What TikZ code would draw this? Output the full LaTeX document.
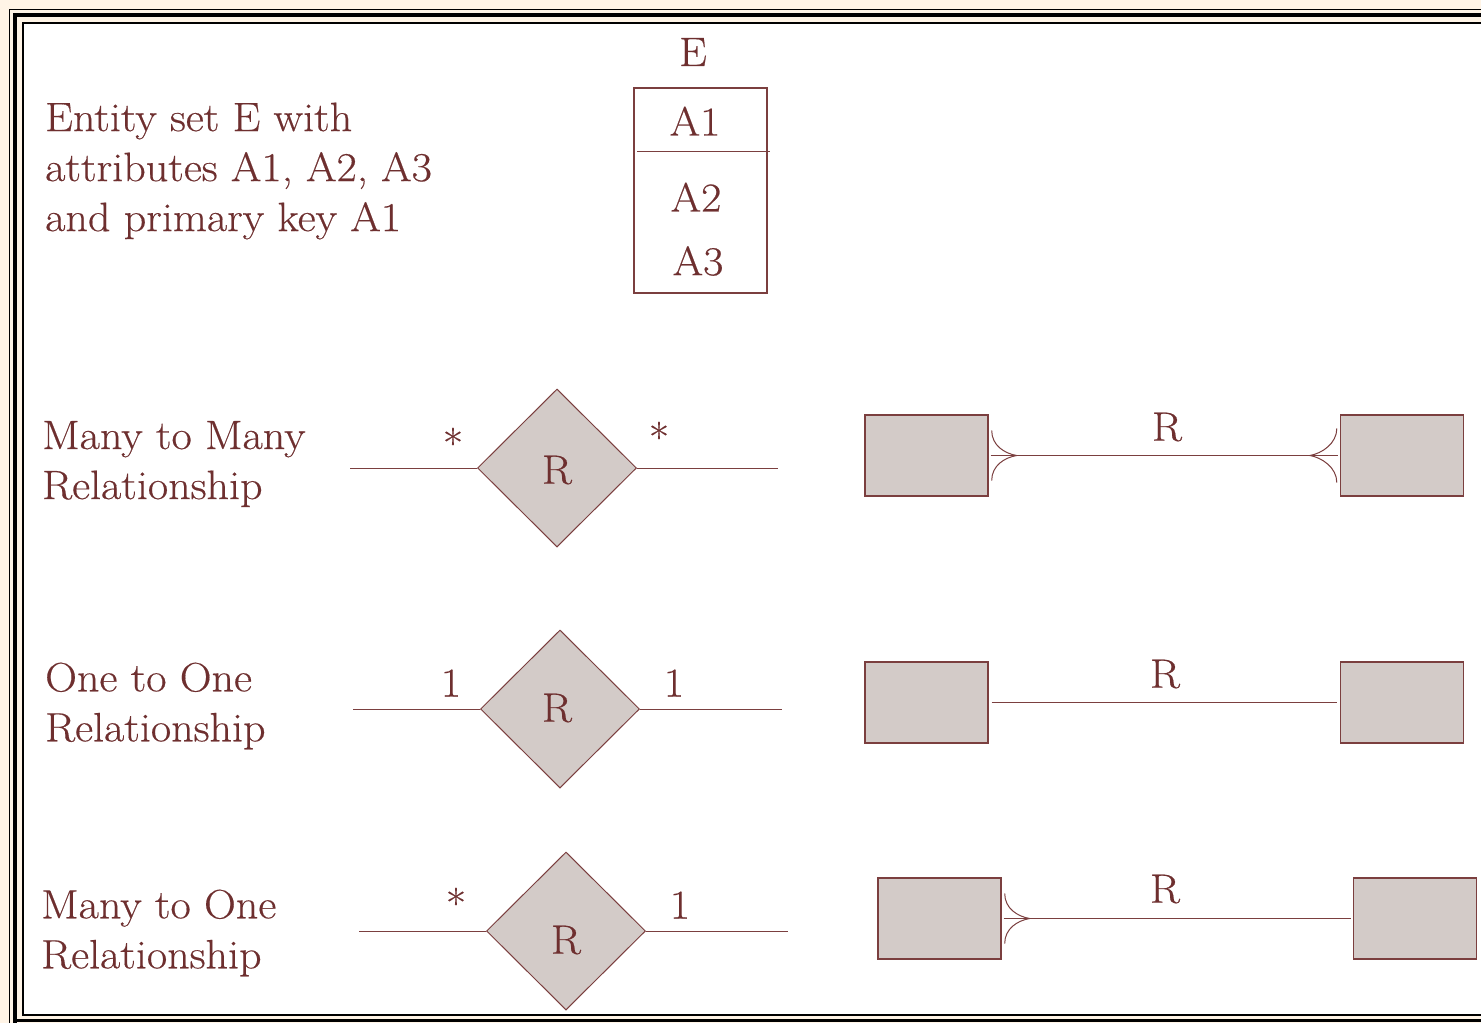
\documentclass[tikz,border=0pt]{standalone}
\usepackage{fontspec}
\setmainfont{Latin Modern Roman}[FakeStretch=1.075,FakeBold=0.4]
\usetikzlibrary{shapes.geometric,calc}
\definecolor{txt}{HTML}{6E2F2F}
\definecolor{ln}{HTML}{7B3F3F}
\definecolor{fillg}{HTML}{D3CBC8}
\definecolor{cream}{HTML}{FFF4E6}
\begin{document}
\begin{tikzpicture}[x=1pt,y=-1pt,
  every node/.style={text=txt,font=\fontsize{41}{50}\selectfont},
  lbl/.style={anchor=west,align=left,inner sep=0pt},
  rel/.style={diamond,draw=ln,fill=fillg,line width=1pt,minimum width=159pt,minimum height=158pt,inner sep=0pt},
  ent/.style={rectangle,draw=ln,fill=fillg,line width=1.4pt,minimum width=123pt,minimum height=81pt,inner sep=0pt},
  conn/.style={draw=ln,line width=1pt},
  foot/.style={draw=ln,line width=1pt}
]
\useasboundingbox (0,0) rectangle (1481,1023);
% background and frame
\fill[cream] (0,0) rectangle (1481,1023);
\fill[white] (23,23) rectangle (1481,1016);
\begin{scope}
\clip (0,0) rectangle (1481,1023);
\draw[black,line width=1.5pt] (9.5,1030) -- (9.5,9.5) -- (1490,9.5);
\draw[black,line width=4pt] (14.5,1030) -- (14.5,14.5) -- (1490,14.5);
\draw[black,line width=2pt] (1490,1015) -- (23,1015) -- (23,23) -- (1490,23);
\draw[black,line width=3pt] (14.5,1020) -- (1490,1020);
\end{scope}

% entity E
\node[lbl] (t1) at (45,171) {Entity set E with\\attributes A1, A2, A3\\and primary key A1};
\node (ename) at (693,52) {E};
\node[draw=ln,line width=1.4pt,minimum width=133pt,minimum height=205pt,inner sep=0pt] (ebox) at (700.5,190.5) {};
\node (a1) at (695,121) {A1};
\node (a2) at (696,197) {A2};
\node (a3) at (698,261) {A3};
\coordinate (s1) at (637,151);
\coordinate (s2) at (770,151);
\draw[conn] (s1) -- (s2);

% Many to many
\node[lbl] (t2) at (42,464) {Many to Many\\Relationship};
\node[rel] (d1) at (557,468) {};
\node (r1) at (557,470) {R};
\coordinate (l1) at (350,468);
\coordinate (m1) at (778,468);
\draw[conn] (l1) -- (d1.west);
\draw[conn] (d1.east) -- (m1);
\node (st1) at (453,443) {*};
\node (st2) at (659,437) {*};

% One to one
\node[lbl] (t3) at (45,706) {One to One\\Relationship};
\node[rel] (d2) at (560,709) {};
\node (r2) at (557,708) {R};
\coordinate (l2) at (353,709);
\coordinate (m2) at (782,709);
\draw[conn] (l2) -- (d2.west);
\draw[conn] (d2.east) -- (m2);
\node (o1) at (451,683) {1};
\node (o2) at (674,683) {1};

% Many to one
\node[lbl] (t4) at (41,933) {Many to One\\Relationship};
\node[rel] (d3) at (566,931) {};
\node (r3) at (566,940) {R};
\coordinate (l3) at (359,931);
\coordinate (m3) at (788,931);
\draw[conn] (l3) -- (d3.west);
\draw[conn] (d3.east) -- (m3);
\node (st3) at (456,903) {*};
\node (o3) at (680,905) {1};

% Right side row 1
\node[ent] (e1a) at (926.5,455.5) {};
\node[ent] (e1b) at (1402,455.5) {};
\draw[conn] ([xshift=2pt]e1a.east) -- ([xshift=-2pt]e1b.west);
\node (rr1) at (1167,427) {R};
\draw[foot] ($(e1a.east)+(3,-25)$) .. controls +(0,15) and +(-12,-2) .. ($(e1a.east)+(28,0)$);
\draw[foot] ($(e1a.east)+(3,25)$) .. controls +(0,-15) and +(-12,2) .. ($(e1a.east)+(28,0)$);
\draw[foot] ($(e1b.west)+(-3,-27)$) .. controls +(0,15) and +(12,-2) .. ($(e1b.west)+(-30,0)$);
\draw[foot] ($(e1b.west)+(-3,27)$) .. controls +(0,-15) and +(12,2) .. ($(e1b.west)+(-30,0)$);

% Right side row 2
\node[ent] (e2a) at (926.5,702.5) {};
\node[ent] (e2b) at (1402,702.5) {};
\draw[conn] ([xshift=3pt]e2a.east) -- ([xshift=-3pt]e2b.west);
\node (rr2) at (1165,674) {R};

% Right side row 3
\node[ent] (e3a) at (939.5,918.5) {};
\node[ent] (e3b) at (1415,918.5) {};
\draw[conn] ([xshift=2pt]e3a.east) -- ([xshift=-2pt]e3b.west);
\node (rr3) at (1165,889) {R};
\draw[foot] ($(e3a.east)+(3,-25)$) .. controls +(0,15) and +(-12,-2) .. ($(e3a.east)+(28,0)$);
\draw[foot] ($(e3a.east)+(3,25)$) .. controls +(0,-15) and +(-12,2) .. ($(e3a.east)+(28,0)$);
\end{tikzpicture}
\end{document}
